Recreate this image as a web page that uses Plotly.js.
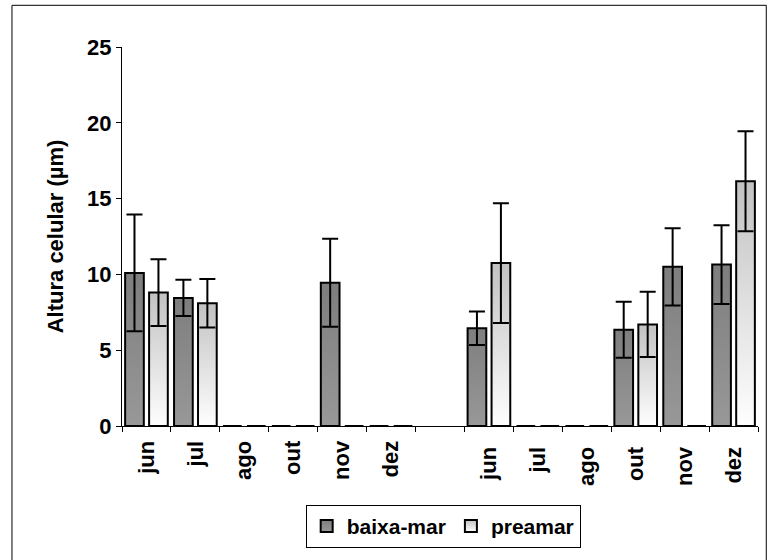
<!DOCTYPE html>
<html>
<head>
<meta charset="utf-8">
<script src="https://cdn.plot.ly/plotly-3.0.1.min.js"></script>
<style>html,body{margin:0;padding:0;background:#fff;}#chart{width:771px;height:560px;}</style>
</head>
<body>
<div id="chart"></div>
<script>
// Month tick labels: two sampling series separated by a blank slot
var months1 = ['jun', 'jul', 'ago', 'out', 'nov', 'dez'];
var months2 = ['jun', 'jul', 'ago', 'out', 'nov', 'dez'];

// Mean cell height (µm)
var baixaMar = [10.1, 8.45, 0, 0, 9.45, 0,   null,   6.45, 0, 0, 6.35, 10.5, 10.65];
var preamar  = [8.8, 8.1, 0, 0, 0, 0,         null,   10.75, 0, 0, 6.7, 0, 16.15];

// Error (± standard deviation)
var baixaErr = [3.85, 1.2, 0, 0, 2.9, 0,      0,      1.1, 0, 0, 1.85, 2.55, 2.6];
var preErr   = [2.2, 1.6, 0, 0, 0, 0,         0,      3.95, 0, 0, 2.15, 0, 3.3];

// Build unique category keys (trailing spaces keep duplicates apart)
var categories = months1.concat([' ']).concat(months2.map(function (m) { return m + ' '; }));

var fontFam = 'Arial, "Liberation Sans", sans-serif';

var traces = [
  {
    type: 'bar', name: 'baixa-mar', x: categories, y: baixaMar,
    marker: { color: '#888888', line: { color: '#000', width: 2 } },
    error_y: { type: 'data', array: baixaErr, visible: true, color: '#000', thickness: 2, width: 8 }
  },
  {
    type: 'bar', name: 'preamar', x: categories, y: preamar,
    marker: { color: '#dddddd', line: { color: '#000', width: 2 } },
    error_y: { type: 'data', array: preErr, visible: true, color: '#000', thickness: 2, width: 8 }
  }
];

var layout = {
  width: 771, height: 560,
  margin: { l: 122, r: 13, t: 47, b: 134 },
  paper_bgcolor: '#fff', plot_bgcolor: '#fff',
  barmode: 'group', bargap: 0.02, bargroupgap: 0.22,
  font: { family: fontFam, color: '#000', size: 21, weight: 'bold' },
  showlegend: true,
  legend: {
    orientation: 'h', x: 0.505, xanchor: 'center', y: -0.208, yanchor: 'top',
    bordercolor: '#000', borderwidth: 1, bgcolor: '#fff',
    font: { family: fontFam, size: 21, weight: 'bold', color: '#000' },
    traceorder: 'normal', itemwidth: 30
  },
  xaxis: {
    type: 'category', tickson: 'boundaries', ticks: 'outside', ticklen: 5, tickcolor: '#000',
    tickangle: -90, showline: true, linecolor: '#000', linewidth: 1, showgrid: false, zeroline: false,
    ticklabelstandoff: 5,
    tickfont: { family: fontFam, size: 22, weight: 'bold', color: '#000' }, fixedrange: true
  },
  yaxis: {
    range: [0, 25], tickvals: [0, 5, 10, 15, 20, 25], ticks: 'outside', ticklen: 5, tickcolor: '#000',
    showline: true, linecolor: '#000', linewidth: 1, showgrid: false, zeroline: false,
    tickfont: { family: fontFam, size: 22, weight: 'bold', color: '#000' },
    title: { text: 'Altura celular (µm)', font: { family: fontFam, size: 22, weight: 'bold', color: '#000' }, standoff: 17 },
    fixedrange: true
  },
  shapes: [
    { type: 'rect', xref: 'paper', yref: 'paper', x0: -0.173, x1: 1.013, y0: -0.37, y1: 1.11,
      line: { color: '#000', width: 1 }, fillcolor: 'rgba(0,0,0,0)', layer: 'below' }
  ]
};

function addGradients(gd) {
  var svg = gd.querySelector('.main-svg');
  var ns = 'http://www.w3.org/2000/svg';
  var defs = svg.querySelector('defs');
  function grad(id, top, bottom) {
    var lg = document.createElementNS(ns, 'linearGradient');
    lg.setAttribute('id', id);
    lg.setAttribute('x1', '0'); lg.setAttribute('y1', '0');
    lg.setAttribute('x2', '0'); lg.setAttribute('y2', '1');
    var s1 = document.createElementNS(ns, 'stop');
    s1.setAttribute('offset', '0'); s1.setAttribute('stop-color', top);
    var s2 = document.createElementNS(ns, 'stop');
    s2.setAttribute('offset', '1'); s2.setAttribute('stop-color', bottom);
    lg.appendChild(s1); lg.appendChild(s2);
    defs.appendChild(lg);
  }
  grad('gBaixa', '#7e7e7e', '#989898');
  grad('gPre', '#c2c2c2', '#fefefe');
  var ids = ['gBaixa', 'gPre'];
  gd.querySelectorAll('.barlayer .trace.bars').forEach(function (t, i) {
    t.querySelectorAll('.point path').forEach(function (p) { p.style.fill = 'url(#' + ids[i] + ')'; });
  });
  gd.querySelectorAll('.legend .traces').forEach(function (t, i) {
    t.querySelectorAll('.legendpoints path').forEach(function (p) { p.style.fill = 'url(#' + ids[i] + ')'; });
  });
}

Plotly.newPlot('chart', traces, layout, { displayModeBar: false, staticPlot: true }).then(addGradients);
</script>
</body>
</html>
